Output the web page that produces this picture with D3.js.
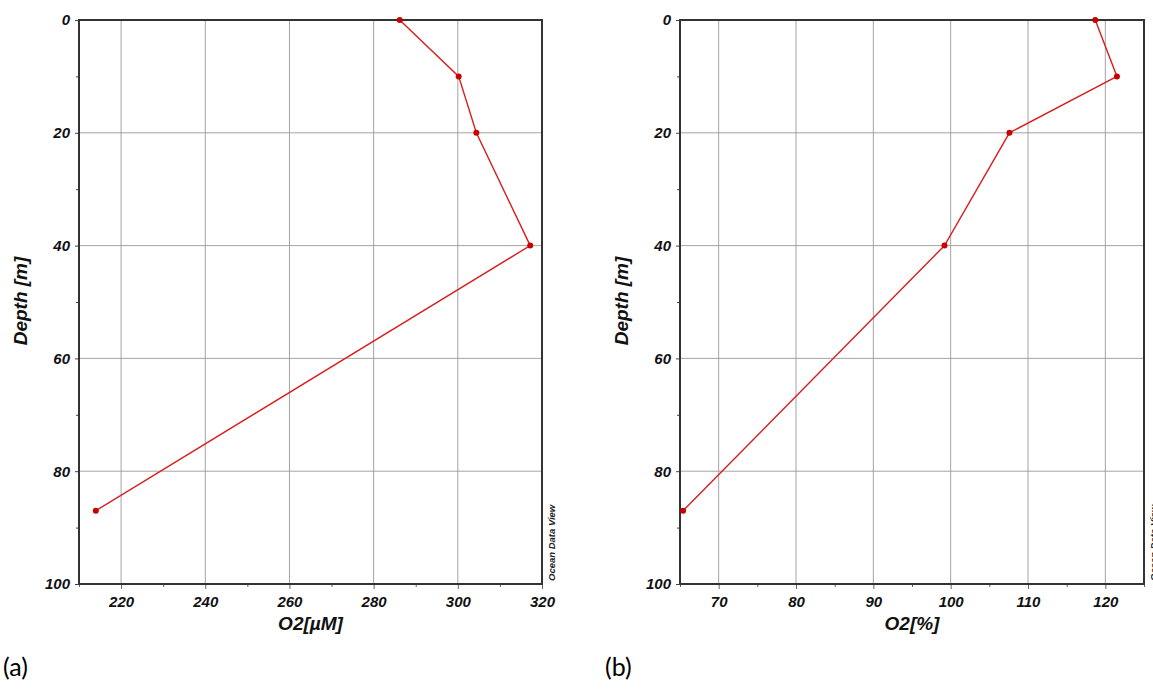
<!DOCTYPE html>
<html><head><meta charset="utf-8">
<script src="https://cdn.jsdelivr.net/npm/d3@7"></script>
<style>body{margin:0;background:#fff}svg{display:block}</style>
</head><body>
<script>
const depths = [0, 10, 20, 40, 87];
const o2uM = [286.2, 300.2, 304.4, 317.2, 214.0];
const o2pct = [118.7, 121.5, 107.6, 99.2, 65.4];
const depthTicks = [0, 20, 40, 60, 80, 100];
const depthMinor = [10, 30, 50, 70, 90];
const uMTicks = [220, 240, 260, 280, 300, 320];
const uMMinor = [210, 230, 250, 270, 290, 310];
const pctTicks = [70, 80, 90, 100, 110, 120];
const pctMinor = [65, 75, 85, 95, 105, 115, 125];

const W = 1153, H = 695;
const svg = d3.select("body").append("svg").attr("width", W).attr("height", H);
svg.append("rect").attr("width", W).attr("height", H).attr("fill", "#fff");

const tickFont = "'Liberation Sans', Arial, sans-serif";

function panel(o) {
  const x = d3.scaleLinear().domain(o.xDomain).range([o.left, o.right]);
  const y = d3.scaleLinear().domain([0, 100]).range([o.top, o.bottom]);
  const g = svg.append("g");
  g.selectAll(".vg").data(o.xTicks).join("line")
    .attr("x1", d => x(d)).attr("x2", d => x(d)).attr("y1", o.top).attr("y2", o.bottom)
    .attr("stroke", "#9a9a9a").attr("stroke-width", 0.9);
  g.selectAll(".hg").data(depthTicks.filter(d => d > 0 && d < 100)).join("line")
    .attr("x1", o.left).attr("x2", o.right).attr("y1", d => y(d)).attr("y2", d => y(d))
    .attr("stroke", "#9a9a9a").attr("stroke-width", 0.9);
  const ya = d3.axisLeft(y).tickValues(depthTicks).tickSize(4).tickPadding(5).tickFormat(d3.format("d"));
  const yaMinor = d3.axisLeft(y).tickValues(depthMinor).tickSize(3).tickFormat("");
  const xa = d3.axisBottom(x).tickValues(o.xTicks).tickSize(5).tickPadding(7).tickFormat(d3.format("d"));
  const xaMinor = d3.axisBottom(x).tickValues(o.xMinor).tickSize(3).tickFormat("");
  [ya, yaMinor].forEach(a => {
    const ga = g.append("g").attr("transform", `translate(${o.left},0)`).call(a);
    ga.select(".domain").remove();
    ga.selectAll("line").attr("stroke", "#444");
  });
  [xa, xaMinor].forEach(a => {
    const ga = g.append("g").attr("transform", `translate(0,${o.bottom})`).call(a);
    ga.select(".domain").remove();
    ga.selectAll("line").attr("stroke", "#666");
  });
  g.selectAll(".tick text").attr("font-family", tickFont).attr("font-size", 15)
    .attr("font-weight", "bold").attr("font-style", "italic").attr("fill", "#111");
  g.append("rect").attr("x", o.left).attr("y", o.top).attr("width", o.right - o.left).attr("height", o.bottom - o.top)
    .attr("fill", "none").attr("stroke", "#333").attr("stroke-width", 2);
  const pts = depths.map((d, i) => [o.values[i], d]);
  g.append("path").datum(pts)
    .attr("d", d3.line().x(d => x(d[0])).y(d => y(d[1])))
    .attr("fill", "none").attr("stroke", "#d91e1e").attr("stroke-width", 1.4);
  g.selectAll(".pt").data(pts).join("circle")
    .attr("cx", d => x(d[0])).attr("cy", d => y(d[1])).attr("r", 3).attr("fill", "#c80000");
  g.append("text").attr("x", (o.left + o.right) / 2).attr("y", 630).attr("text-anchor", "middle")
    .attr("font-family", tickFont).attr("font-size", 19).attr("font-weight", "bold").attr("font-style", "italic")
    .attr("fill", "#111").text(o.xLabel);
  g.append("text").attr("transform", `translate(${o.left - 52},${(o.top + o.bottom) / 2 - 1}) rotate(-90)`)
    .attr("text-anchor", "middle")
    .attr("font-family", tickFont).attr("font-size", 19).attr("font-weight", "bold").attr("font-style", "italic")
    .attr("fill", "#111").text("Depth [m]");
  g.append("text").attr("transform", `translate(${o.right + 13},${o.bottom - 3}) rotate(-90)`)
    .attr("font-family", tickFont).attr("font-size", 9.5).attr("font-style", "italic").attr("font-weight", "bold")
    .attr("fill", "#222").text("Ocean Data View");
  svg.append("text").attr("x", o.tagX).attr("y", 676).attr("font-family", "Lato, 'Open Sans', sans-serif")
    .attr("font-size", 25).attr("fill", "#000").text(o.tag);
}

panel({left: 79, right: 542, top: 20, bottom: 584, xDomain: [210, 320], xTicks: uMTicks, xMinor: uMMinor,
  values: o2uM, xLabel: "O2[µM]", tag: "(a)", tagX: 3});
panel({left: 680, right: 1144, top: 20, bottom: 584, xDomain: [65, 125], xTicks: pctTicks, xMinor: pctMinor,
  values: o2pct, xLabel: "O2[%]", tag: "(b)", tagX: 605});
</script>
</body></html>
